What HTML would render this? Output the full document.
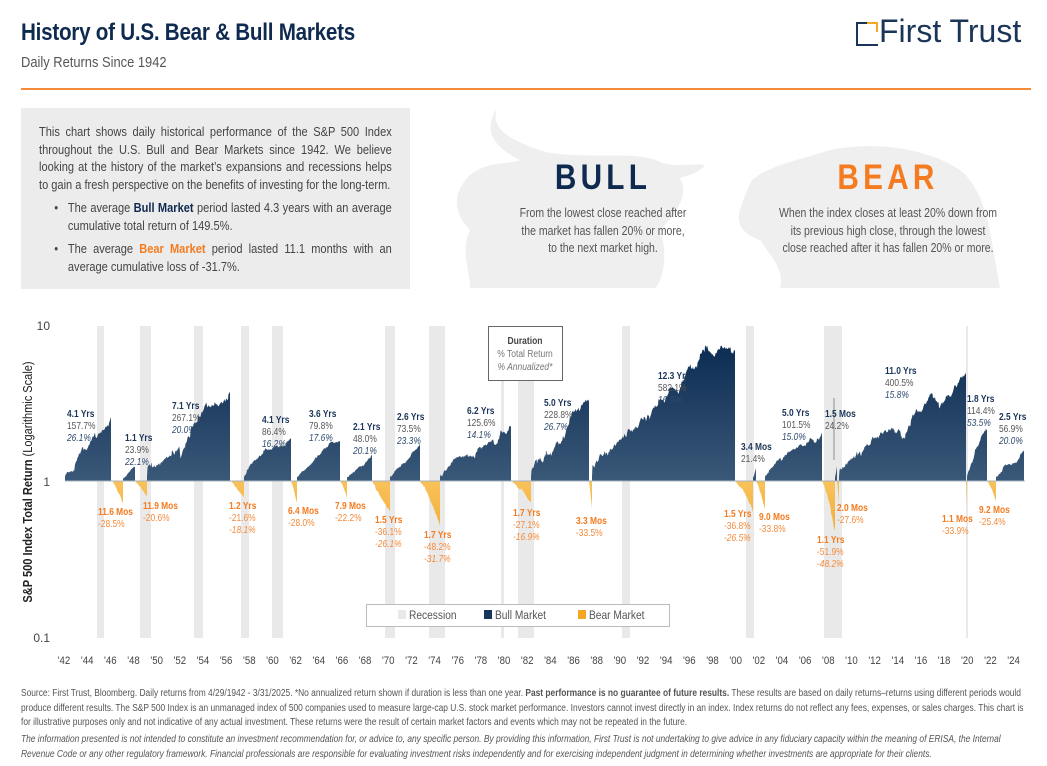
<!DOCTYPE html>
<html><head><meta charset="utf-8">
<style>
*{margin:0;padding:0;box-sizing:border-box}
body{width:1047px;height:766px;background:#fff;font-family:"Liberation Sans",sans-serif;position:relative;overflow:hidden;color:#444}
.abs{position:absolute}
h1{position:absolute;left:21px;top:19px;font-size:24px;font-weight:bold;color:#0f2a4f;letter-spacing:-0.3px;transform:scaleX(0.86);transform-origin:left}
.sub{left:21px;top:54px;font-size:15px;color:#555;transform:scaleX(0.86);transform-origin:left}
.box{left:21px;top:108px;width:389px;height:181px;background:#ececec}
.boxin{position:absolute;left:18px;top:15px;width:415px;transform:scaleX(0.85);transform-origin:left top;font-size:13px;line-height:17.5px;color:#444}
.boxin p{text-align:justify}
.boxin ul{margin-left:34px;list-style:none}
.boxin li{position:relative;text-align:justify;margin-top:6px}
.boxin li:before{content:"•";position:absolute;left:-16px}
.foot{left:21px;width:1188px;transform:scaleX(0.85);transform-origin:left top;font-size:9.9px;line-height:14.7px;color:#555}
</style></head><body>
<h1>History of U.S. Bear &amp; Bull Markets</h1>
<div class="abs sub">Daily Returns Since 1942</div>
<div class="abs" style="left:21px;top:88px;width:1010px;height:1.5px;background:#f58a3a"></div>
<div class="abs" style="left:856px;top:22px;width:22px;height:24px;border:2.5px solid #1b3559;border-right:none"></div>
<div class="abs" style="left:867px;top:22px;width:11px;height:10px;border-top:2.5px solid #f5a623;border-right:2.5px solid #f5a623"></div>
<div class="abs" style="left:879px;top:13px;font-size:32px;color:#1b3559;font-family:'Liberation Sans',sans-serif">First Trust</div>
<div class="abs box"><div class="boxin">
<p>This chart shows daily historical performance of the S&amp;P 500 Index throughout the U.S. Bull and Bear Markets since 1942. We believe looking at the history of the market’s expansions and recessions helps to gain a fresh perspective on the benefits of investing for the long-term.</p>
<ul><li>The average <b style="color:#0f2a4f">Bull Market</b> period lasted 4.3 years with an average cumulative total return of 149.5%.</li>
<li>The average <b style="color:#f47b20">Bear Market</b> period lasted 11.1 months with an average cumulative loss of -31.7%.</li></ul>
</div></div>
<svg class="abs" style="left:0;top:0" width="1047" height="766">
<g fill="#efefef">
<path d="M497,108 C490,130 510,140 545,152 C590,160 640,150 660,162 C675,168 690,163 705,165 C700,172 690,175 680,178 C690,195 675,215 660,230 C670,260 660,285 655,288 L470,288 C470,270 460,250 470,230 C455,215 450,195 470,175 C490,160 510,165 520,160 C500,150 480,135 497,108Z"/>
<path d="M752,180 C770,165 800,160 830,150 C880,140 930,150 960,170 C985,190 990,230 995,260 L1000,288 L780,288 C785,270 770,255 760,240 C745,235 735,225 740,210 C745,195 748,188 752,180Z"/>
</g>
<g font-size="35" font-weight="bold" letter-spacing="5" text-anchor="middle">
<text transform="translate(603,189) scale(0.85,1)" fill="#0f2a4f">BULL</text>
<text transform="translate(888,189) scale(0.85,1)" fill="#f47b20">BEAR</text></g>
<g id="desc" font-size="12.5" fill="#555" text-anchor="middle"></g>
<g id="rec" fill="#e9e9e9"></g>
<g id="series"></g>
<line x1="65" y1="481" x2="1025" y2="481" stroke="#aab4c0" stroke-width="1"/>
<g font-size="12" fill="#444" text-anchor="end">
<text x="50" y="330">10</text><text x="50" y="486">1</text><text x="50" y="642">0.1</text></g>
<text transform="translate(32,482) rotate(-90) scale(0.85,1)" text-anchor="middle" font-size="13" fill="#222"><tspan font-weight="bold">S&amp;P 500 Index Total Return</tspan> (Logarithmic Scale)</text>
<g id="xt" font-size="11.5" fill="#444" text-anchor="middle"></g>
<rect x="488.5" y="326.5" width="74" height="54" fill="#fff" stroke="#666"/>
<g font-size="10" text-anchor="middle">
<text transform="translate(525,344) scale(0.85,1)" font-weight="bold" fill="#444">Duration</text>
<text transform="translate(525,357) scale(0.85,1)" fill="#777">% Total Return</text>
<text transform="translate(525,370) scale(0.85,1)" fill="#777" font-style="italic">% Annualized*</text></g>
<rect x="366.5" y="604.5" width="303" height="22" fill="#fff" stroke="#bbb"/>
<rect x="398" y="610" width="8" height="9" fill="#e9e9e9"/>
<rect x="484" y="610" width="8" height="9" fill="#17365a"/>
<rect x="578" y="610" width="8" height="9" fill="#f5a623"/>
<g font-size="12" fill="#555">
<text transform="translate(409,619) scale(0.85,1)">Recession</text><text transform="translate(495,619) scale(0.85,1)">Bull Market</text><text transform="translate(589,619) scale(0.85,1)">Bear Market</text></g>
<line x1="834" y1="398" x2="834" y2="460" stroke="#777" stroke-width="0.8"/>
<g id="lab" font-size="10"></g>
<defs>
<linearGradient id="gb" gradientUnits="userSpaceOnUse" x1="0" y1="355" x2="0" y2="481"><stop offset="0" stop-color="#0f2f55"/><stop offset="1" stop-color="#3a5878"/></linearGradient>
<linearGradient id="go" gradientUnits="userSpaceOnUse" x1="0" y1="481" x2="0" y2="565"><stop offset="0" stop-color="#f8c25a"/><stop offset="1" stop-color="#f0a020"/></linearGradient>
</defs>
</svg>
<div class="abs foot" style="top:687px">Source: First Trust, Bloomberg. Daily returns from 4/29/1942 - 3/31/2025. *No annualized return shown if duration is less than one year. <b>Past performance is no guarantee of future results.</b> These results are based on daily returns–returns using different periods would produce different results. The S&amp;P 500 Index is an unmanaged index of 500 companies used to measure large-cap U.S. stock market performance. Investors cannot invest directly in an index. Index returns do not reflect any fees, expenses, or sales charges. This chart is for illustrative purposes only and not indicative of any actual investment. These returns were the result of certain market factors and events which may not be repeated in the future.</div>
<div class="abs foot" style="top:733px;font-style:italic">The information presented is not intended to constitute an investment recommendation for, or advice to, any specific person. By providing this information, First Trust is not undertaking to give advice in any fiduciary capacity within the meaning of ERISA, the Internal Revenue Code or any other regulatory framework. Financial professionals are responsible for evaluating investment risks independently and for exercising independent judgment in determining whether investments are appropriate for their clients.</div>
<script>
var NS="http://www.w3.org/2000/svg";
function el(t,a,p,txt){var e=document.createElementNS(NS,t);for(var k in a)e.setAttribute(k,a[k]);if(txt!==undefined)e.textContent=txt;p.appendChild(e);return e;}
function st(x,y,t,a,p){a=a||{};a.transform='translate('+x+','+y+') scale(0.84,1)';return el('text',a,p,t);}
var desc=document.getElementById('desc');
[[603,217,'From the lowest close reached after'],[603,235,'the market has fallen 20% or more,'],[603,252,'to the next market high.'],[888,217,'When the index closes at least 20% down from'],[888,235,'its previous high close, through the lowest'],[888,252,'close reached after it has fallen 20% or more.']].forEach(function(a){st(a[0],a[1],a[2],{},desc);});
var rec=[[97,104],[140,151],[194,203],[241,249],[272,283],[385,395],[429,445],[501,504],[518,534],[622,630],[746,754],[824,842],[966,968]];
var g=document.getElementById('rec');
rec.forEach(function(r){el('rect',{x:r[0],y:326,width:r[1]-r[0],height:312},g);});
var xt=document.getElementById('xt');
for(var y=1942;y<=2024;y+=2){var s=String(y%100);if(s.length<2)s='0'+s;st(64+(y-1942)*11.58,664,"'"+s,{},xt);}
var B=481,D=156;
var seed=11;function rnd(){seed=(seed*16807)%2147483647;return seed/2147483647;}
var bulls=[[65,111,1.577],[123,135,.239],[147,230,2.671],[244,291,.864],[297,340,.798],[347,372,.48],[390,420,.735],[440,511,1.256],[531,589,2.288],[592,735,5.821],[753,756,.214],[765,822,1.015],[835,837,.242],[839,966,4.005],[967,987,1.144],[996,1024,.569]];
var bears=[[111,123,-.285],[135,147,-.206],[230,244,-.216],[291,297,-.28],[340,347,-.222],[372,390,-.361],[420,440,-.482],[511,531,-.271],[589,592,-.335],[735,753,-.368],[756,765,-.338],[822,835,-.519],[837,839,-.276],[966,967,-.339],[987,996,-.254]];
var sg=document.getElementById('series');
function seg(a,b,r,fill,bull){
 var h=D*Math.log10(1+r);var n=Math.max(2,Math.round((b-a)*2));
 var w=[0],v=0;for(var i=1;i<=n;i++){v+=(rnd()-0.5)*(rnd()<0.1?3:1);w.push(v);}
 var d='M'+a+','+B;
 var amp=Math.min(Math.abs(h)*0.05,4);
 for(var i=0;i<=n;i++){var t=i/n;var br=(w[i]-t*w[n]);
  var base=bull?(Math.abs(h)*0.12+h*0.88*Math.pow(t,0.9)):h*Math.pow(t,1.2);
  if(bull&&i==0)base=Math.min(4,h*0.3);
  var val=base+br*amp;
  if(bull){val=Math.max(0,val);}else{val=Math.min(0,val);}
  if(i==n)val=h;
  d+=' L'+(a+t*(b-a)).toFixed(2)+','+(B-val).toFixed(2);}
 d+=' L'+b+','+B+'Z';el('path',{d:d,fill:fill},sg);}
bulls.forEach(function(s){seg(s[0],s[1],s[2],'url(#gb)',true);});
bears.forEach(function(s){seg(s[0],s[1],s[2],'url(#go)',false);});
var lab=document.getElementById('lab');
function L(x,y,lines,bull){lines.forEach(function(t,i){var a={};
 if(bull){a.fill=i==0?'#1b3559':(i==1?'#555':'#2d4a6e');}
 else{a.fill=i==0?'#f47b20':'#f58a3a';}
 if(i==0)a['font-weight']='bold';if(i==2)a['font-style']='italic';
 st(x,y+4+i*12,t,a,lab);});}
[[67,413,['4.1 Yrs','157.7%','26.1%']],[125,437,['1.1 Yrs','23.9%','22.1%']],[172,405,['7.1 Yrs','267.1%','20.0%']],[262,419,['4.1 Yrs','86.4%','16.2%']],[309,413,['3.6 Yrs','79.8%','17.6%']],[353,426,['2.1 Yrs','48.0%','20.1%']],[397,416,['2.6 Yrs','73.5%','23.3%']],[467,410,['6.2 Yrs','125.6%','14.1%']],[544,402,['5.0 Yrs','228.8%','26.7%']],[658,375,['12.3 Yrs','582.1%','16.9%']],[741,446,['3.4 Mos','21.4%']],[782,412,['5.0 Yrs','101.5%','15.0%']],[825,413,['1.5 Mos','24.2%']],[885,370,['11.0 Yrs','400.5%','15.8%']],[967,398,['1.8 Yrs','114.4%','53.5%']],[999,416,['2.5 Yrs','56.9%','20.0%']]].forEach(function(a){L(a[0],a[1],a[2],true);});
[[98,511,['11.6 Mos','-28.5%']],[143,505,['11.9 Mos','-20.6%']],[229,505,['1.2 Yrs','-21.6%','-18.1%']],[288,510,['6.4 Mos','-28.0%']],[335,505,['7.9 Mos','-22.2%']],[375,519,['1.5 Yrs','-36.1%','-26.1%']],[424,534,['1.7 Yrs','-48.2%','-31.7%']],[513,512,['1.7 Yrs','-27.1%','-16.9%']],[576,520,['3.3 Mos','-33.5%']],[724,513,['1.5 Yrs','-36.8%','-26.5%']],[759,516,['9.0 Mos','-33.8%']],[817,539,['1.1 Yrs','-51.9%','-48.2%']],[837,507,['2.0 Mos','-27.6%']],[942,518,['1.1 Mos','-33.9%']],[979,509,['9.2 Mos','-25.4%']]].forEach(function(a){L(a[0],a[1],a[2],false);});
</script>
</body></html>
